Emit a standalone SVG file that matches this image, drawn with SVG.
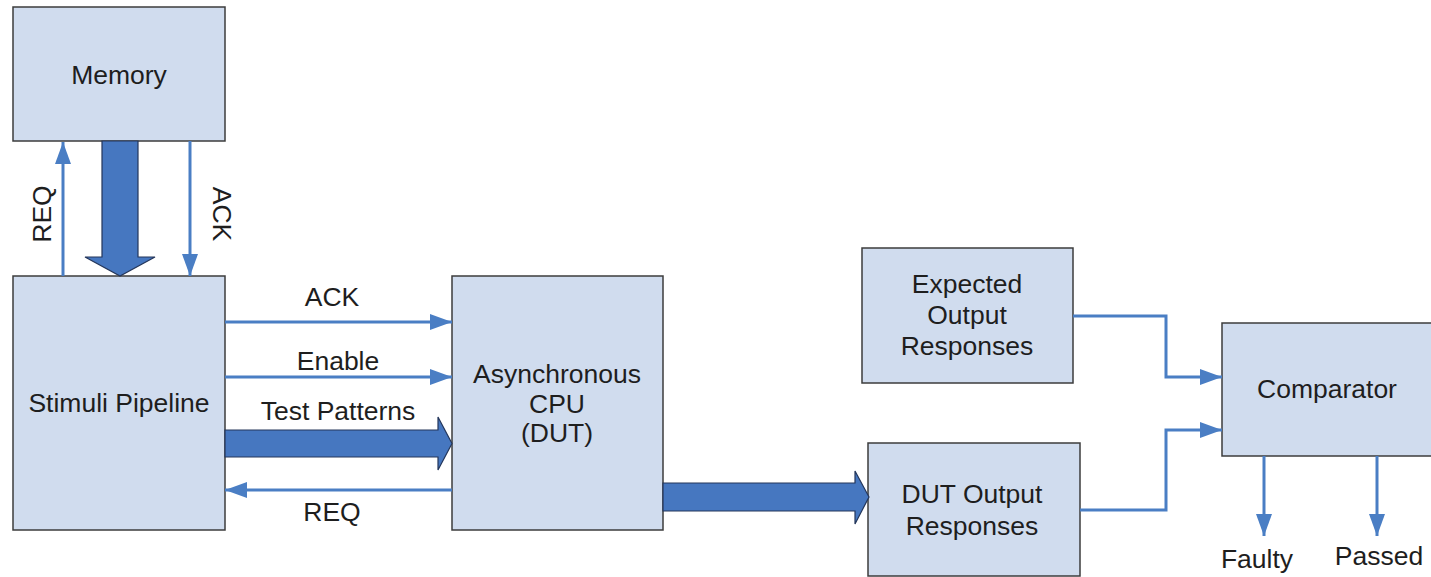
<svg xmlns="http://www.w3.org/2000/svg" width="1431" height="577" viewBox="0 0 1431 577">
<style>
.box{fill:#D0DCEE;stroke:#3C3C3C;stroke-width:1.5}
.t{font-family:"Liberation Sans",Arial,sans-serif;font-size:26.5px;fill:#1E1E1E;text-anchor:middle}
.ln{fill:none;stroke:#4A7EC4;stroke-width:3}
.big{fill:#4677C0;stroke:#24365A;stroke-width:1.2}
</style>
<defs>
<marker id="ah" markerUnits="userSpaceOnUse" markerWidth="22" markerHeight="16" viewBox="0 0 22 16" refX="22" refY="8" orient="auto">
<path d="M0,0 L22,8 L0,16 Z" fill="#4A7EC4"/>
</marker>
</defs>
<g id="memory"><rect class="box" x="13" y="7" width="212" height="134"/><text class="t" x="119" y="84">Memory</text></g>
<g id="stimuli"><rect class="box" x="13" y="276" width="212" height="254"/><text class="t" x="119" y="412">Stimuli Pipeline</text></g>
<g id="cpu"><rect class="box" x="452" y="276" width="211" height="254"/><text class="t" x="557" y="383">Asynchronous</text><text class="t" x="557" y="413">CPU</text><text class="t" x="557" y="442">(DUT)</text></g>
<g id="expected"><rect class="box" x="862" y="248" width="211" height="135"/><text class="t" x="967" y="293">Expected</text><text class="t" x="967" y="324">Output</text><text class="t" x="967" y="355">Responses</text></g>
<g id="dutout"><rect class="box" x="868" y="443" width="212" height="133"/><text class="t" x="972" y="503">DUT Output</text><text class="t" x="972" y="535">Responses</text></g>
<g id="comparator"><rect class="box" x="1222" y="323" width="212" height="133"/><text class="t" x="1327" y="398">Comparator</text></g>
<g id="connectors">
<path class="ln" d="M63,276 V142" marker-end="url(#ah)"/>
<path class="ln" d="M190,141 V276" marker-end="url(#ah)"/>
<path class="big" d="M102,141 H138 V257 H155 L120,276 L85,257 H102 Z"/>
<path class="ln" d="M225,322 H452" marker-end="url(#ah)"/>
<path class="ln" d="M225,377 H452" marker-end="url(#ah)"/>
<path class="big" d="M225,430 H438 V417 L452,443.5 L438,470 V457 H225 Z"/>
<path class="ln" d="M452,490 H225" marker-end="url(#ah)"/>
<path class="big" d="M663,483 H855 V471 L869,497 L855,524 V511 H663 Z"/>
<path class="ln" d="M1073,316 H1166 V377 H1222" marker-end="url(#ah)"/>
<path class="ln" d="M1080,510 H1166 V430 H1222" marker-end="url(#ah)"/>
<path class="ln" d="M1264,456 V536" marker-end="url(#ah)"/>
<path class="ln" d="M1377,456 V536" marker-end="url(#ah)"/>
</g>
<g id="labels">
<text class="t" transform="translate(51,214) rotate(-90)">REQ</text>
<text class="t" transform="translate(213,214) rotate(90)">ACK</text>
<text class="t" x="332" y="306">ACK</text>
<text class="t" x="338" y="370">Enable</text>
<text class="t" x="338" y="420">Test Patterns</text>
<text class="t" x="332" y="521">REQ</text>
<text class="t" x="1257" y="568">Faulty</text>
<text class="t" x="1379" y="565">Passed</text>
</g>
</svg>
